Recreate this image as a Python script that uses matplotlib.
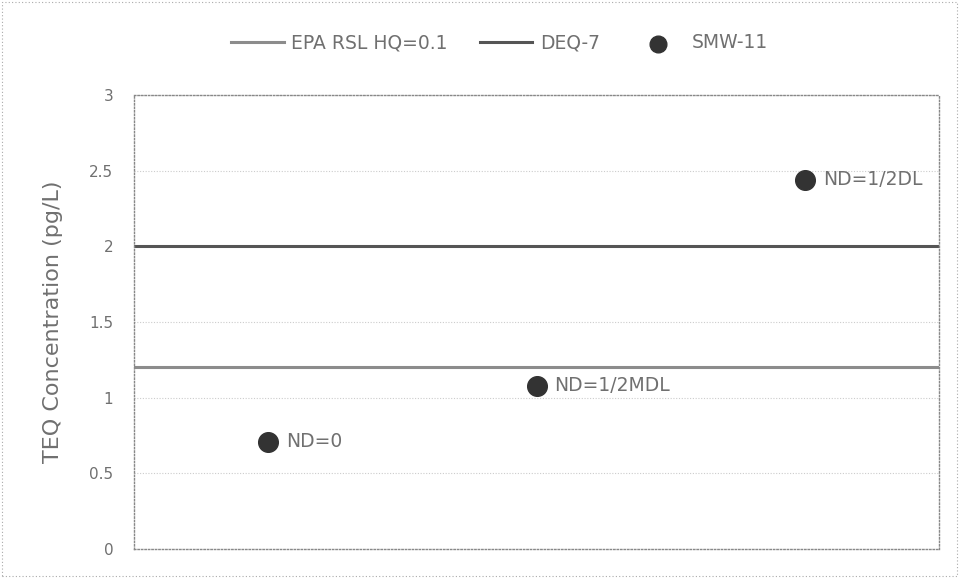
import matplotlib
matplotlib.use("Agg")
import matplotlib.pyplot as plt
from matplotlib.patches import Rectangle

# values
sample_x = [1, 2, 3]
sample_teq = [0.71, 1.08, 2.44]
sample_labels = ["ND=0", "ND=1/2MDL", "ND=1/2DL"]
epa_rsl = 1.2
deq7 = 2.0
yticks = [0, 0.5, 1, 1.5, 2, 2.5, 3]
ytick_labels = ["0", "0.5", "1", "1.5", "2", "2.5", "3"]

plt.rcParams["font.family"] = ["DejaVu Sans"]
text_col = "#707070"

fig = plt.figure(figsize=(9.59, 5.78), dpi=100)
ax = fig.add_axes([134 / 959, 29 / 578, 805 / 959, 454 / 578])

ax.axhline(epa_rsl, color="#8c8c8c", lw=2.2, label="EPA RSL HQ=0.1", zorder=2)
ax.axhline(deq7, color="#555555", lw=2.2, label="DEQ-7", zorder=2)
ax.scatter(sample_x, sample_teq, s=200, color="#333333", label="SMW-11", zorder=3)
for x, y, t in zip(sample_x, sample_teq, sample_labels):
    ax.annotate(t, (x, y), xytext=(13, 0), textcoords="offset points",
                va="center", ha="left", fontsize=13.5, color=text_col)

ax.set_xlim(0.5, 3.5)
ax.set_ylim(0, 3)
ax.set_xticks([])
ax.set_yticks(yticks)
ax.set_yticklabels(ytick_labels, fontsize=11, color=text_col)
ax.tick_params(axis="y", length=0, pad=15)
ax.grid(axis="y", color="#cccccc", lw=0.8, ls=(0, (1, 1.5)))
ax.set_axisbelow(True)
for s in ax.spines.values():
    s.set_color("#888888")
    s.set_linestyle((0, (1, 1.5)))
    s.set_linewidth(1.0)

ax.set_ylabel("TEQ Concentration (pg/L)", fontsize=16, color=text_col, labelpad=19)

fig.legend(loc="center", bbox_to_anchor=(0.521, 1 - 43 / 578), ncol=3, frameon=False,
           fontsize=13.5, labelcolor=text_col, handlelength=2.8, columnspacing=1.7,
           handletextpad=0.4, markerscale=0.85)

# dotted border round the whole figure
fig.patches.append(Rectangle((0.002, 0.003), 0.996, 0.994, transform=fig.transFigure,
                             fill=False, ec="#aaaaaa", lw=0.8, ls=(0, (1, 2))))

fig.savefig("out.png", dpi=100)
